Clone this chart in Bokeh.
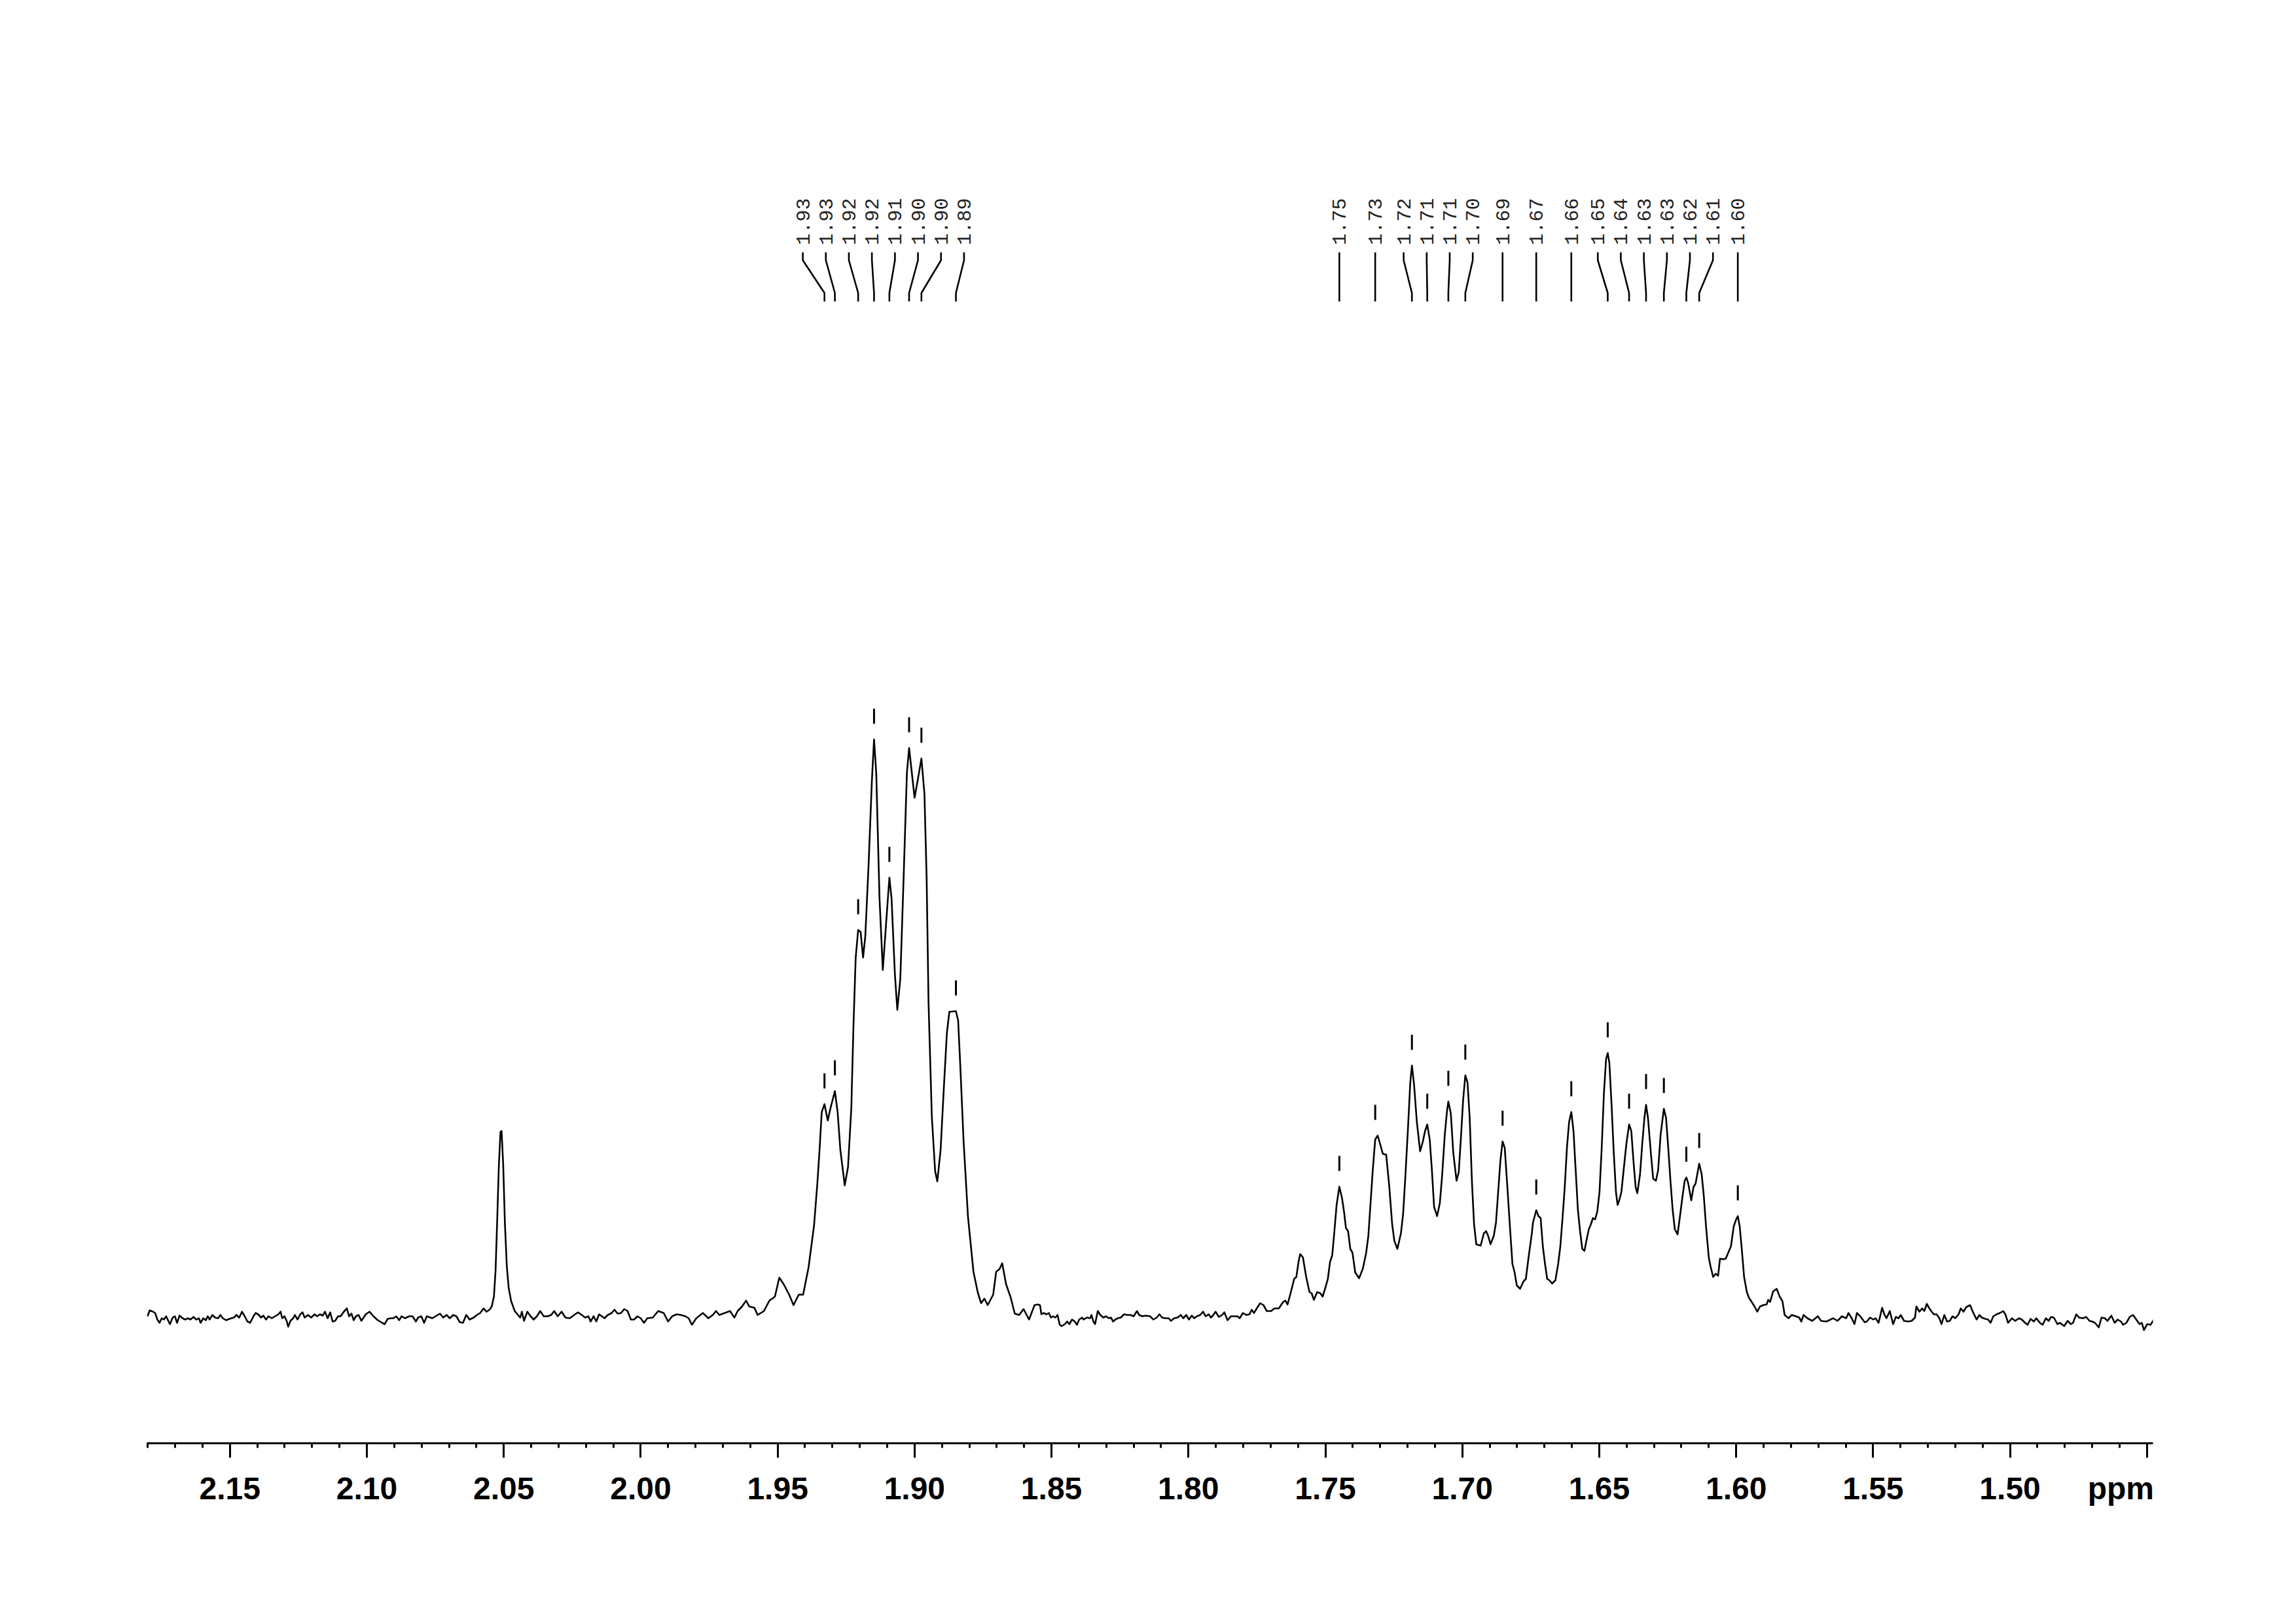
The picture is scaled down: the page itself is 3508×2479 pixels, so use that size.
import math
from bokeh.plotting import figure
from bokeh.models import Range1d, FixedTicker, CustomJSTickFormatter
from bokeh.core.properties import value
from bokeh.embed import file_html
from bokeh.resources import INLINE

# ---------------- spectrum trace (ppm, intensity) ----------------
seg_a_ppm = [2.1801, 2.1793, 2.1781, 2.1773, 2.1765, 2.1757, 2.1749, 2.1741, 2.1733, 2.1725,
             2.1719, 2.1709, 2.1701, 2.1693, 2.1684, 2.1673, 2.1663, 2.1653, 2.1644, 2.1633,
             2.1623, 2.1613, 2.1607, 2.1597, 2.1588, 2.1581, 2.1574, 2.1564, 2.1554, 2.1543,
             2.1535, 2.1526, 2.1514, 2.1502, 2.1486, 2.1476, 2.1466, 2.1456, 2.1446, 2.1436,
             2.1426, 2.1414, 2.1406, 2.1397, 2.1386, 2.1378, 2.1368, 2.1359, 2.1347, 2.1335,
             2.1323, 2.1315, 2.1309, 2.1301, 2.1293, 2.1287, 2.1279, 2.1269, 2.1263, 2.1253,
             2.1243, 2.1235, 2.1227, 2.1215, 2.1203, 2.1191, 2.1182, 2.1171, 2.1161, 2.1153,
             2.1143, 2.1134, 2.1125, 2.1116, 2.1105, 2.1096, 2.1084, 2.1073, 2.1065, 2.1056,
             2.1048, 2.1040, 2.1030, 2.1020, 2.1004, 2.0990, 2.0976, 2.0960, 2.0944, 2.0935,
             2.0924, 2.0912, 2.0903, 2.0893, 2.0882, 2.0873, 2.0861, 2.0845, 2.0833, 2.0821,
             2.0813, 2.0801, 2.0791, 2.0781]
seg_a_int = [2, 11, 9, 7, -3, -8, -1, -3, 2, -5,
             -10, 0, 2, -8, 3, -1, -3, -1, -3, 1,
             -3, -1, -8, -1, -4, 2, -3, 4, 0, -1,
             4, -1, -4, -2, 0, 4, 0, 9, 2, -6,
             -8, 2, 7, 5, 0, 3, -3, 2, -1, 2,
             5, 9, -1, 2, -5, -14, -5, -1, 4, -3,
             5, 8, 0, 4, 0, 5, 2, 5, 3, 9,
             -1, 8, -6, -5, 2, 2, 9, 14, 2, 6,
             -4, 2, 4, -5, 5, 9, 2, -4, -8, -10,
             -2, -1, -1, 2, -4, 2, -1, 2, 2, -6,
             0, 2, -8, 2]

seg_b_ppm = [2.0761, 2.0749, 2.0733, 2.0721, 2.0709, 2.0697, 2.0685, 2.0673, 2.0661, 2.0649,
             2.0637, 2.0625, 2.0610, 2.0598, 2.0586, 2.0574, 2.0563, 2.0552, 2.0544, 2.0536,
             2.0530, 2.0524, 2.0518, 2.0512, 2.0508, 2.0502, 2.0496, 2.0489, 2.0482, 2.0473,
             2.0460, 2.0450, 2.0440, 2.0434, 2.0426, 2.0414, 2.0402, 2.0391, 2.0379, 2.0367,
             2.0354, 2.0339, 2.0327, 2.0316, 2.0303, 2.0289, 2.0275, 2.0259, 2.0243, 2.0229,
             2.0215, 2.0203, 2.0191, 2.0183, 2.0172, 2.0162, 2.0152, 2.0132, 2.0120, 2.0106,
             2.0096, 2.0084, 2.0072, 2.0060, 2.0048, 2.0036, 2.0024, 2.0012, 2.0000, 1.9988,
             1.9976, 1.9956, 1.9936, 1.9916, 1.9900, 1.9885, 1.9869, 1.9853, 1.9837, 1.9825,
             1.9813, 1.9797, 1.9773, 1.9753, 1.9737, 1.9725, 1.9713, 1.9693, 1.9674, 1.9658,
             1.9646, 1.9630, 1.9615, 1.9604, 1.9585, 1.9573]
seg_b_int = [-1, 2, 6, 0, 4, -1, 4, 2, -7, -8,
             4, -3, 0, 4, 7, 14, 9, 12, 17, 32,
             72, 149, 232, 284, 285, 232, 145, 79, 45, 25,
             10, 5, 0, 9, -5, 9, 2, -3, 2, 10,
             2, 2, 4, 10, 2, 9, 0, -1, 4, 8,
             4, 0, 2, -6, 2, -6, 5, -1, 4, 7,
             12, 6, 7, 13, 10, -3, -3, 2, -1, -8,
             -1, 0, 10, 7, -6, 2, 5, 4, 2, -1,
             -11, -1, 7, -1, 4, 10, 4, 7, 10, 0,
             10, 17, 26, 17, 15, 4]

seg_c_ppm = [1.9550, 1.9530, 1.9510, 1.9494, 1.9478, 1.9458, 1.9442, 1.9423, 1.9407, 1.9387,
             1.9367, 1.9355, 1.9347, 1.9339, 1.9329, 1.9317, 1.9307, 1.9291, 1.9281, 1.9271,
             1.9255, 1.9243, 1.9231, 1.9223, 1.9215, 1.9206, 1.9197, 1.9188, 1.9180, 1.9168,
             1.9156, 1.9148, 1.9140, 1.9128, 1.9116, 1.9104, 1.9092, 1.9084, 1.9072, 1.9063,
             1.9052, 1.9040, 1.9028, 1.9020, 1.9010, 1.9000, 1.8988, 1.8975, 1.8964, 1.8956,
             1.8949, 1.8937, 1.8925, 1.8917, 1.8905, 1.8893, 1.8882, 1.8873, 1.8849, 1.8841,
             1.8833, 1.8821, 1.8805, 1.8785, 1.8769, 1.8757, 1.8745, 1.8733, 1.8713, 1.8702,
             1.8690, 1.8680, 1.8666, 1.8650, 1.8634, 1.8618, 1.8602, 1.8582, 1.8562]
seg_c_int = [10, 26, 32, 61, 51, 35, 19, 35, 35, 77,
             141, 205, 256, 314, 326, 301, 320, 346, 314, 256,
             202, 230, 320, 448, 550, 592, 589, 550, 582, 691,
             819, 883, 832, 640, 531, 602, 672, 640, 525, 470,
             518, 672, 832, 870, 832, 794, 822, 854, 800, 672,
             480, 307, 224, 208, 256, 352, 435, 467, 468, 454,
             384, 269, 154, 70, 38, 22, 29, 19, 35, 70,
             74, 83, 51, 32, 6, 4, 13, -3, 19]

seg_d_ppm = [1.8550, 1.8542, 1.8537, 1.8529, 1.8518, 1.8510, 1.8502, 1.8494, 1.8486, 1.8478,
             1.8470, 1.8463, 1.8451, 1.8443, 1.8435, 1.8425, 1.8415, 1.8407, 1.8399, 1.8388,
             1.8383, 1.8371, 1.8359, 1.8354, 1.8347, 1.8341, 1.8331, 1.8322, 1.8311, 1.8301,
             1.8291, 1.8283, 1.8275, 1.8267, 1.8258, 1.8247, 1.8235, 1.8223, 1.8212, 1.8200,
             1.8188, 1.8180, 1.8168, 1.8156, 1.8140, 1.8128, 1.8116, 1.8106, 1.8096, 1.8084,
             1.8072, 1.8064, 1.8052, 1.8040, 1.8028, 1.8019, 1.8008, 1.7998, 1.7988, 1.7979,
             1.7969, 1.7957, 1.7947, 1.7937, 1.7926, 1.7918, 1.7909, 1.7901, 1.7889, 1.7877,
             1.7869, 1.7857]
seg_d_int = [20, 19, 5, 7, 5, 7, 0, 2, 0, 4,
             -11, -13, -10, -6, -10, -3, -6, -11, -3, 0,
             -3, 0, -1, 4, -6, -10, 10, 4, 0, 2,
             -1, 0, -6, -3, -1, 0, 5, 4, 4, 2,
             10, 4, 2, 3, 2, -3, 0, 5, 0, -1,
             -1, -5, -1, 0, 4, -1, 4, -3, 3, -1,
             2, 4, 9, 2, 5, 0, 4, 9, 1, 4,
             8, -4]

seg_e_ppm = [1.7845, 1.7821, 1.7813, 1.7801, 1.7789, 1.7777, 1.7769, 1.7761, 1.7749, 1.7738,
             1.7726, 1.7714, 1.7698, 1.7686, 1.7670, 1.7654, 1.7646, 1.7638, 1.7626, 1.7614,
             1.7606, 1.7598, 1.7592, 1.7582, 1.7570, 1.7558, 1.7550, 1.7542, 1.7530, 1.7518,
             1.7510, 1.7499, 1.7491, 1.7483, 1.7475, 1.7467, 1.7459, 1.7449, 1.7439, 1.7431,
             1.7425, 1.7417, 1.7409, 1.7401, 1.7391, 1.7377, 1.7363, 1.7351, 1.7343, 1.7335,
             1.7327, 1.7318, 1.7309, 1.7300, 1.7290, 1.7278, 1.7267, 1.7256, 1.7248, 1.7237,
             1.7224, 1.7216, 1.7208, 1.7198, 1.7190, 1.7184, 1.7176, 1.7166, 1.7154, 1.7144,
             1.7136, 1.7128, 1.7119, 1.7111, 1.7103, 1.7092, 1.7082, 1.7074, 1.7064, 1.7056,
             1.7051, 1.7042, 1.7033, 1.7021, 1.7013, 1.7005, 1.6997, 1.6989, 1.6981, 1.6973,
             1.6965, 1.6957, 1.6949, 1.6933, 1.6921, 1.6913, 1.6905, 1.6897, 1.6885, 1.6877,
             1.6869, 1.6861, 1.6853, 1.6845, 1.6837, 1.6825, 1.6817, 1.6809, 1.6801, 1.6789,
             1.6777, 1.6768, 1.6758]
seg_e_int = [2, 2, -1, 7, 4, 5, 12, 7, 15, 22,
             19, 10, 10, 14, 14, 24, 26, 20, 39, 59,
             62, 85, 97, 92, 62, 39, 37, 27, 39, 37,
             32, 47, 59, 85, 95, 132, 172, 200, 182, 159,
             137, 132, 105, 99, 69, 60, 75, 99, 125, 175,
             225, 272, 278, 265, 250, 249, 202, 142, 117, 105,
             129, 159, 215, 292, 359, 385, 355, 299, 254, 269,
             285, 295, 272, 225, 169, 155, 175, 215, 279, 315,
             330, 312, 252, 209, 222, 275, 332, 370, 359, 305,
             209, 142, 112, 110, 129, 132, 124, 112, 125, 145,
             192, 239, 269, 259, 209, 132, 82, 69, 49, 44,
             55, 59, 92]

seg_f_ppm = [1.6746, 1.6742, 1.6730, 1.6722, 1.6714, 1.6706, 1.6698, 1.6690, 1.6682, 1.6672,
             1.6660, 1.6650, 1.6642, 1.6634, 1.6626, 1.6618, 1.6610, 1.6602, 1.6594, 1.6586,
             1.6578, 1.6570, 1.6562, 1.6554, 1.6546, 1.6538, 1.6531, 1.6523, 1.6515, 1.6507,
             1.6499, 1.6491, 1.6483, 1.6475, 1.6469, 1.6463, 1.6455, 1.6447, 1.6439, 1.6433,
             1.6427, 1.6419, 1.6411, 1.6401, 1.6391, 1.6383, 1.6375, 1.6367, 1.6361, 1.6351,
             1.6343, 1.6335, 1.6329, 1.6322, 1.6311, 1.6303, 1.6293, 1.6285, 1.6276, 1.6264,
             1.6256, 1.6248, 1.6240, 1.6232, 1.6224, 1.6214, 1.6206, 1.6196, 1.6188, 1.6182,
             1.6175, 1.6164, 1.6156, 1.6148, 1.6142, 1.6135, 1.6126, 1.6118, 1.6110, 1.6100,
             1.6094, 1.6084, 1.6075, 1.6066, 1.6059, 1.6048, 1.6038, 1.6029, 1.6019, 1.6009,
             1.6001, 1.5994, 1.5987, 1.5979, 1.5971, 1.5961, 1.5953, 1.5945, 1.5933, 1.5923,
             1.5913, 1.5901, 1.5889, 1.5883, 1.5876, 1.5865, 1.5852, 1.5841, 1.5831, 1.5823,
             1.5809, 1.5797, 1.5782, 1.5770, 1.5762, 1.5754, 1.5740, 1.5722, 1.5702, 1.5690,
             1.5670, 1.5646, 1.5630, 1.5614, 1.5598]
seg_f_int = [129, 145, 164, 155, 152, 109, 82, 59, 57, 52,
             57, 82, 109, 152, 199, 259, 299, 314, 285, 225,
             165, 132, 105, 102, 119, 135, 142, 152, 150, 162,
             192, 259, 342, 395, 404, 389, 325, 252, 192, 172,
             179, 192, 225, 265, 295, 285, 239, 199, 190, 219,
             265, 305, 325, 305, 249, 212, 209, 225, 279, 319,
             305, 259, 209, 165, 135, 127, 152, 185, 209, 214,
             205, 179, 199, 205, 219, 235, 219, 185, 139, 92,
             79, 62, 67, 64, 90, 89, 90, 99, 109, 139,
             149, 155, 139, 102, 62, 39, 30, 25, 17, 9,
             17, 19, 20, 27, 24, 40, 44, 32, 25, 4,
             -1, 4, 2, 0, -6, 4, -1, -5, 2, -5,
             -6, -1, -5, 2, -1]

seg_g_ppm = [1.5590, 1.5578, 1.5568, 1.5559, 1.5547, 1.5531, 1.5523, 1.5511, 1.5499, 1.5491,
             1.5480, 1.5467, 1.5459, 1.5451, 1.5439, 1.5427, 1.5417, 1.5407, 1.5399, 1.5387,
             1.5371, 1.5359, 1.5347, 1.5342, 1.5331, 1.5321, 1.5313, 1.5304, 1.5296, 1.5288,
             1.5278, 1.5268, 1.5258, 1.5250, 1.5240, 1.5230, 1.5220, 1.5210, 1.5200, 1.5188,
             1.5180, 1.5170, 1.5160, 1.5146, 1.5136, 1.5122, 1.5112, 1.5103, 1.5090, 1.5080,
             1.5071, 1.5061, 1.5049, 1.5037, 1.5025, 1.5017, 1.5007, 1.4993, 1.4981, 1.4967,
             1.4957, 1.4945, 1.4936, 1.4925, 1.4913, 1.4904, 1.4891, 1.4881, 1.4869, 1.4859,
             1.4850, 1.4840, 1.4827, 1.4818, 1.4802, 1.4790, 1.4778, 1.4770, 1.4758, 1.4748,
             1.4734, 1.4722, 1.4710, 1.4700, 1.4690, 1.4676, 1.4666, 1.4654, 1.4644, 1.4630,
             1.4618, 1.4607, 1.4595, 1.4587, 1.4575, 1.4563, 1.4551, 1.4539, 1.4527, 1.4519,
             1.4511, 1.4499, 1.4487, 1.4471, 1.4463]
seg_g_int = [7, -1, -10, 7, 2, -7, -6, 0, -3, -1,
             -8, 15, 5, -1, 10, -10, 1, -1, 4, -5,
             -6, -5, 0, 17, 9, 14, 10, 21, 15, 10,
             5, 5, -1, -10, 4, -6, -5, 2, -1, 5,
             14, 9, 16, 19, 9, -3, 4, 0, -2, -3,
             -8, 2, 5, 7, 10, 5, -8, -1, -5, -1,
             -3, -8, -11, -2, -6, -1, -8, -11, -1, -5,
             1, 0, -10, -8, -13, -5, -10, -8, 5, 0,
             -1, 1, -5, -6, -8, -15, 0, -1, -5, 3,
             -8, -3, -6, -11, -8, 1, 4, -3, -10, -8,
             -19, -10, -11, -1, -3]

# ---------------- picked peaks ----------------
peak_ppm = [1.9329, 1.9291, 1.9206, 1.9148, 1.9092, 1.9020, 1.8975, 1.8849,
            1.7449, 1.7318, 1.7184, 1.7128, 1.7051, 1.6989, 1.6853, 1.6730,
            1.6602, 1.6469, 1.6391, 1.6329, 1.6264, 1.6182, 1.6135, 1.5994]
peak_int = [326, 346, 592, 883, 672, 870, 854, 468,
            200, 278, 385, 295, 330, 370, 269, 164,
            314, 404, 295, 325, 319, 214, 235, 155]
peak_labels = ["1.93", "1.93", "1.92", "1.92", "1.91", "1.90", "1.90", "1.89",
               "1.75", "1.73", "1.72", "1.71", "1.71", "1.70", "1.69", "1.67",
               "1.66", "1.65", "1.64", "1.63", "1.63", "1.62", "1.61", "1.60"]

# ---------------- axis ticks ----------------
major_ticks = [2.15, 2.10, 2.05, 2.00, 1.95, 1.90, 1.85, 1.80, 1.75, 1.70,
               1.65, 1.60, 1.55, 1.50, 1.45]
minor_ticks = [round(2.18 - 0.01 * k, 2) for k in range(74)]
unit_label = "ppm"

segs = [(seg_a_ppm, seg_a_int), (seg_b_ppm, seg_b_int), (seg_c_ppm, seg_c_int),
        (seg_d_ppm, seg_d_int), (seg_e_ppm, seg_e_int), (seg_f_ppm, seg_f_int),
        (seg_g_ppm, seg_g_int)]
xs, ys = [], []
for sp, si in segs:
    n = min(len(sp), len(si))
    xs += sp[:n]
    ys += si[:n]

X_START, X_END = 2.1803, 1.4478
W, H = 3492, 2463

p = figure(width=W, height=H, x_range=Range1d(X_START, X_END), y_range=Range1d(-192, 1912),
           output_backend="svg", toolbar_location=None, y_axis_location=None,
           min_border_left=224, min_border_right=203, min_border_top=100, min_border_bottom=259)
p.grid.visible = False
p.outline_line_color = None
p.background_fill_color = "white"
p.border_fill_color = "white"

ax = p.xaxis[0]
ax.ticker = FixedTicker(ticks=major_ticks, minor_ticks=minor_ticks)
ax.formatter = CustomJSTickFormatter(
    args=dict(unit=unit_label),
    code="if (tick < 1.475) { return unit + '\\u00a0'.repeat(6); } return tick.toFixed(2);")
ax.axis_line_width = 3
ax.axis_line_color = "black"
ax.major_tick_line_width = 3
ax.minor_tick_line_width = 3
ax.major_tick_out = 22
ax.major_tick_in = 0
ax.minor_tick_out = 7
ax.minor_tick_in = 0
ax.major_label_text_font = "Liberation Sans"
ax.major_label_text_font_style = "bold"
ax.major_label_text_font_size = "48px"
ax.major_label_text_color = "black"
ax.major_label_standoff = 20

# spectrum
p.line(xs, ys, line_color="black", line_width=2.6, line_join="round")

# peak markers
GAP, LEN = 24, 23
p.segment(x0=peak_ppm, y0=[v + GAP for v in peak_int], x1=peak_ppm,
          y1=[v + GAP + LEN for v in peak_int], line_color="black", line_width=3)

# label spreading
d = 0.00841
order = sorted(range(len(peak_ppm)), key=lambda i: -peak_ppm[i])
groups = [[i] for i in order]

def layout(g):
    c = sum(peak_ppm[i] for i in g) / len(g)
    top = c + (len(g) - 1) * d / 2
    return [top - k * d for k in range(len(g))]

merged = True
while merged:
    merged = False
    for k in range(len(groups) - 1):
        a = layout(groups[k])
        b = layout(groups[k + 1])
        if a[-1] - b[0] < d - 1e-9:
            groups[k] = groups[k] + groups[k + 1]
            del groups[k + 1]
            merged = True
            break

label_x = [0.0] * len(peak_ppm)
for g in groups:
    for i, x in zip(g, layout(g)):
        label_x[i] = x

V_TOP, V_B1, V_B2, V_BOT = 1627, 1615, 1565, 1552
conn_x = [[label_x[i], label_x[i], peak_ppm[i], peak_ppm[i]] for i in range(len(peak_ppm))]
conn_y = [[V_TOP, V_B1, V_B2, V_BOT] for _ in peak_ppm]
p.multi_line(conn_x, conn_y, line_color="black", line_width=2.6)

p.text(x=label_x, y=[1638] * len(label_x), text=peak_labels, angle=math.pi / 2,
       text_align="left", text_baseline="middle", text_font=value("Liberation Mono"),
       text_font_size="30px", text_color="#222222")

open("out.html", "w").write(file_html(p, INLINE))
